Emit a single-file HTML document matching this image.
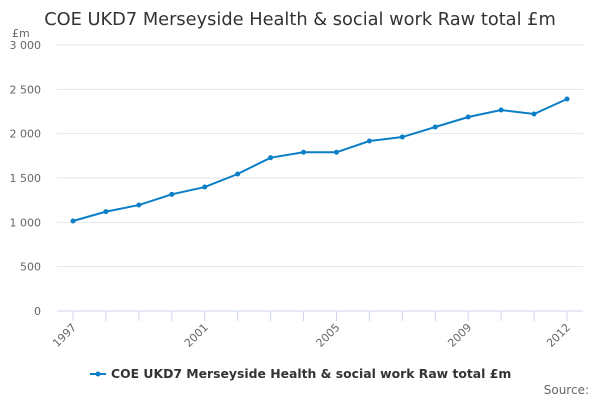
<!DOCTYPE html>
<html><head><meta charset="utf-8"><style>
body{margin:0;background:#fff;font-family:"Liberation Sans","DejaVu Sans",sans-serif}
svg text{font-family:"DejaVu Sans","Liberation Sans",sans-serif}
</style></head><body>
<svg id="c" width="600" height="400" xmlns="http://www.w3.org/2000/svg">
<text x="300" y="25" text-anchor="middle" font-size="17.8" fill="#333">COE UKD7 Merseyside Health &amp; social work Raw total £m</text>
<text x="12" y="37" font-size="11" fill="#666">£m</text>
<g id="grid"></g><g id="xa"></g><g id="series"></g>
<g>
<line x1="90" y1="374" x2="106" y2="374" stroke="#0a7ec6" stroke-width="2"/>
<circle cx="98" cy="374" r="2.5" fill="#0a7ec6"/>
<text x="111" y="378" font-size="12.4" font-weight="bold" fill="#333">COE UKD7 Merseyside Health &amp; social work Raw total £m</text>
</g>
<text x="589" y="394" text-anchor="end" font-size="12" fill="#666">Source:</text>
</svg>
<script>
const years=[1997,1998,1999,2000,2001,2002,2003,2004,2005,2006,2007,2008,2009,2010,2011,2012];
const values=[1015,1121,1195,1316,1398,1545,1729,1790,1790,1917,1962,2075,2188,2267,2222,2391];
const yTicks=[0,500,1000,1500,2000,2500,3000];
const yTickLabels=["0","500","1 000","1 500","2 000","2 500","3 000"];
const xLabelYears=[1997,2001,2005,2009,2012];
const NS="http://www.w3.org/2000/svg";
const L=57,R=583,T=45,B=311,x0=73,x1=567;
const xs=y=>x0+(y-years[0])*(x1-x0)/(years[years.length-1]-years[0]);
const ys=v=>B-v*(B-T)/3000;
function mk(t,a,p){const e=document.createElementNS(NS,t);for(const k in a)e.setAttribute(k,a[k]);p.appendChild(e);return e;}
const g=document.getElementById('grid'),xa=document.getElementById('xa'),s=document.getElementById('series');
yTicks.forEach((v,i)=>{
 const l=mk('line',{x1:L,x2:R,y1:ys(v),y2:ys(v),stroke:v===0?'#ccd6eb':'#e6e6e6','stroke-width':1},g);
 
 
 const t=mk('text',{x:41,y:ys(v)+4,'text-anchor':'end','font-size':11,fill:'#666'},g);
 t.textContent=yTickLabels[i];
 
 
});
years.forEach(y=>{
 const l=mk('line',{x1:xs(y),x2:xs(y),y1:B,y2:B+10,stroke:'#ccd6eb'},xa);
 
 
});
xLabelYears.forEach(y=>{
 const x=xs(y)+4,yy=B+17;
 const t=mk('text',{x:x,y:yy,'text-anchor':'end','font-size':11,fill:'#666',transform:`rotate(-45 ${x} ${yy})`},xa);
 t.textContent=y;
 
 
});
const p=mk('polyline',{points:years.map((y,i)=>xs(y)+','+ys(values[i])).join(' '),fill:'none',stroke:'#0a7ec6','stroke-width':2},s);


years.forEach((y,i)=>{
 const c=mk('circle',{cx:xs(y),cy:ys(values[i]),r:2.5,fill:'#0a7ec6'},s);
 
 
});
</script>
</body></html>
